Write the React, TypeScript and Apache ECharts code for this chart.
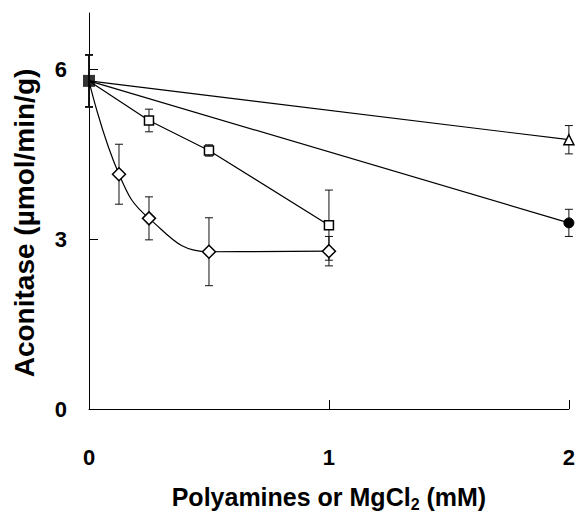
import React, { useEffect, useRef } from "react";
import * as echarts from "echarts";

// Data
const squareX = [0, 0.25, 0.5, 1];
const squareY = [5.8, 5.1, 4.57, 3.25];
const squareErr = [0.46, 0.2, 0.1, 0.62];

const diamondX = [0, 0.125, 0.25, 0.5, 1];
const diamondY = [5.8, 4.15, 3.37, 2.78, 2.79];
const diamondErr = [0.46, 0.53, 0.38, 0.6, 0.26];

const triangleX = [0, 2];
const triangleY = [5.8, 4.76];
const triangleErr = [0.46, 0.25];

const circleX = [0, 2];
const circleY = [5.8, 3.29];
const circleErr = [0.46, 0.24];

const controlX = [0];
const controlY = [5.8];
const controlErr = [0.46];

const xTicks = [0, 1, 2];
const yTicks = [0, 3, 6];

const yTitle = "Aconitase (µmol/min/g)";

const FONT = '"Liberation Sans", Arial, Helvetica, sans-serif';

function lineData(xs: number[], ys: number[]) {
  return xs.map((x, i) =>
    x === 0 ? { value: [x, ys[i]], symbol: "none" } : { value: [x, ys[i]] }
  );
}

function errData(xs: number[], ys: number[], es: number[]) {
  return xs.map((x, i) => [x, ys[i] - es[i], ys[i] + es[i]]);
}

function errSeries(data: number[][]) {
  return {
    type: "custom",
    silent: true,
    z: 1,
    data,
    renderItem: (params: any, api: any) => {
      const x = api.value(0);
      const lo = api.coord([x, api.value(1)]);
      const hi = api.coord([x, api.value(2)]);
      const w = 4;
      const style = { stroke: "#111", lineWidth: 1 };
      return {
        type: "group",
        children: [
          { type: "line", shape: { x1: lo[0], y1: lo[1], x2: hi[0], y2: hi[1] }, style },
          { type: "line", shape: { x1: lo[0] - w, y1: lo[1], x2: lo[0] + w, y2: lo[1] }, style },
          { type: "line", shape: { x1: hi[0] - w, y1: hi[1], x2: hi[0] + w, y2: hi[1] }, style },
        ],
      };
    },
  };
}

export default function App() {
  const ref = useRef<HTMLDivElement>(null);
  useEffect(() => {
    if (!ref.current) return;
    const chart = echarts.init(ref.current, null, { renderer: "svg" });
    const lineStyle = { color: "#000", width: 1.2 };
    const openItem = { color: "#fff", borderColor: "#000", borderWidth: 1.5 };
    chart.setOption({
      animation: false,
      backgroundColor: "#fff",
      grid: { left: 89, right: 9, top: 13, bottom: 98 },
      graphic: [
        {
          type: "text",
          x: 24,
          y: 223,
          rotation: Math.PI / 2,
          style: {
            text: yTitle,
            fill: "#000",
            font: `bold 28px ${FONT}`,
            textAlign: "center",
            textVerticalAlign: "middle",
          },
        },
      ],
      xAxis: {
        type: "value",
        min: 0,
        max: 2,
        interval: 1,
        splitLine: { show: false },
        axisLine: { lineStyle: { color: "#000", width: 1 } },
        axisTick: { inside: true, length: 9, lineStyle: { color: "#000" }, customValues: xTicks },
        axisLabel: {
          customValues: xTicks,
          margin: 37,
          color: "#000",
          fontSize: 22,
          fontWeight: "bold",
          fontFamily: FONT,
        },
        name: "{a|Polyamines or MgCl}{s|2}{a| (mM)}",
        nameLocation: "middle",
        nameGap: 73,
        nameTextStyle: {
          rich: {
            a: { fontSize: 25, fontWeight: "bold", fontFamily: FONT, color: "#000", lineHeight: 30 },
            s: { fontSize: 16, fontWeight: "bold", fontFamily: FONT, color: "#000", lineHeight: 16, verticalAlign: "bottom" },
          },
        },
      },
      yAxis: {
        type: "value",
        min: 0,
        max: 7,
        splitLine: { show: false },
        axisLine: { show: true, lineStyle: { color: "#000", width: 1 } },
        axisTick: { show: true, inside: true, length: 9, lineStyle: { color: "#000" }, customValues: yTicks },
        axisLabel: {
          customValues: yTicks,
          margin: 22,
          color: "#000",
          fontSize: 22,
          fontWeight: "bold",
          fontFamily: FONT,
        },
      },
      series: [
        errSeries(errData(squareX, squareY, squareErr)),
        errSeries(errData(diamondX, diamondY, diamondErr)),
        errSeries(errData(triangleX, triangleY, triangleErr)),
        errSeries(errData(circleX, circleY, circleErr)),
        errSeries(errData(controlX, controlY, controlErr)),
        {
          type: "line",
          z: 3,
          data: lineData(triangleX, triangleY),
          symbol: "triangle",
          symbolSize: 10,
          lineStyle,
          itemStyle: openItem,
        },
        {
          type: "line",
          z: 3,
          data: lineData(circleX, circleY),
          symbol: "circle",
          symbolSize: 10,
          lineStyle,
          itemStyle: { color: "#000", borderColor: "#000", borderWidth: 1 },
        },
        {
          type: "line",
          z: 3,
          data: lineData(squareX, squareY),
          symbol: "rect",
          symbolSize: 9,
          lineStyle,
          itemStyle: openItem,
        },
        {
          type: "line",
          z: 3,
          smooth: 0.45,
          data: lineData(diamondX, diamondY),
          symbol: "diamond",
          symbolSize: 13,
          lineStyle,
          itemStyle: openItem,
        },
        {
          type: "scatter",
          z: 4,
          data: controlX.map((x, i) => [x, controlY[i]]),
          symbol: "rect",
          symbolSize: 12,
          itemStyle: { color: "#000" },
        },
      ],
    });
    return () => chart.dispose();
  }, []);
  return (
    <div
      ref={ref}
      style={{ position: "fixed", left: 0, top: 0, width: 578, height: 517, background: "#fff" }}
    />
  );
}
